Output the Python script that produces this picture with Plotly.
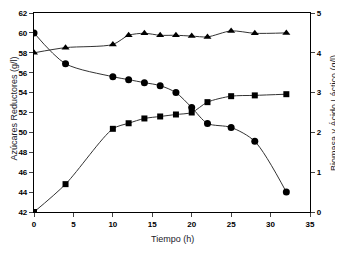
import plotly.graph_objects as go

time_sugar = [0, 4, 10, 12, 14, 16, 18, 20, 22, 25, 28, 32]
sugar = [60.0, 56.9, 55.6, 55.3, 55.0, 54.7, 54.0, 52.5, 50.9, 50.5, 49.1, 44.0]

time_biomass = [0, 4, 10, 12, 14, 16, 18, 20, 22, 25, 28, 32]
biomass = [0.0, 0.70, 2.09, 2.23, 2.35, 2.40, 2.45, 2.50, 2.76, 2.91, 2.93, 2.96]

time_lactic = [0, 4, 10, 12, 14, 16, 18, 20, 22, 25, 28, 32]
lactic = [4.00, 4.13, 4.21, 4.44, 4.49, 4.44, 4.44, 4.42, 4.40, 4.55, 4.49, 4.50]

x_ticks = [0, 5, 10, 15, 20, 25, 30, 35]
left_ticks = [42, 44, 46, 48, 50, 52, 54, 56, 58, 60, 62]
right_ticks = [0, 1, 2, 3, 4, 5]

x_title = "Tiempo (h)"
left_title = "Azúcares Reductores (g/l)"
right_title = "Biomasa y Ácido Láctico (g/l)"

line_style = dict(color="#333333", width=1, shape="spline", smoothing=0.8)
tickfont = dict(family="Liberation Sans, Arial", size=8, color="#000000", weight="bold")
titlefont = dict(family="Liberation Sans, Arial", size=9, color="#1a1a2a")

fig = go.Figure()
fig.add_trace(go.Scatter(x=time_sugar, y=sugar, mode="lines+markers", line=line_style,
                         marker=dict(symbol="circle", size=7, color="#000000"), yaxis="y"))
fig.add_trace(go.Scatter(x=time_biomass, y=biomass, mode="lines+markers", line=line_style,
                         marker=dict(symbol="square", size=6, color="#000000"), yaxis="y2"))
fig.add_trace(go.Scatter(x=time_lactic, y=lactic, mode="lines+markers", line=line_style,
                         marker=dict(symbol="triangle-up", size=7, color="#000000"), yaxis="y2"))

fig.update_layout(
    width=335, height=249,
    margin=dict(l=26, r=33, t=5, b=45),
    paper_bgcolor="white", plot_bgcolor="white",
    showlegend=False,
    xaxis=dict(range=[0, 35], tickvals=x_ticks, ticks="outside", ticklen=4, tickwidth=1,
               showline=True, linecolor="black", linewidth=1.2, mirror=True, showgrid=False,
               zeroline=False, tickfont=tickfont, automargin=False),
    yaxis=dict(range=[42, 62], tickvals=left_ticks, ticks="outside", ticklen=4, tickwidth=1,
               showline=True, linecolor="black", linewidth=1.2, showgrid=False, zeroline=False,
               tickfont=tickfont, automargin=False),
    yaxis2=dict(range=[0, 5], tickvals=right_ticks, ticks="outside", ticklen=4, tickwidth=1,
                overlaying="y", side="right", showline=True, linecolor="black", linewidth=1.2,
                showgrid=False, zeroline=False, tickfont=tickfont, automargin=False),
    annotations=[
        dict(text=x_title, xref="paper", yref="paper", x=0.5, y=-0.135, showarrow=False,
             font=titlefont, xanchor="center", yanchor="middle"),
        dict(text=left_title, xref="paper", yref="paper", x=-0.076, y=0.52, showarrow=False,
             font=titlefont, textangle=-90, xanchor="center", yanchor="middle"),
        dict(text=right_title, xref="paper", yref="paper", x=1.085, y=0.50, showarrow=False,
             font=titlefont, textangle=-90, xanchor="center", yanchor="middle"),
    ],
)

fig.write_html("out.html", config={"displayModeBar": False})
